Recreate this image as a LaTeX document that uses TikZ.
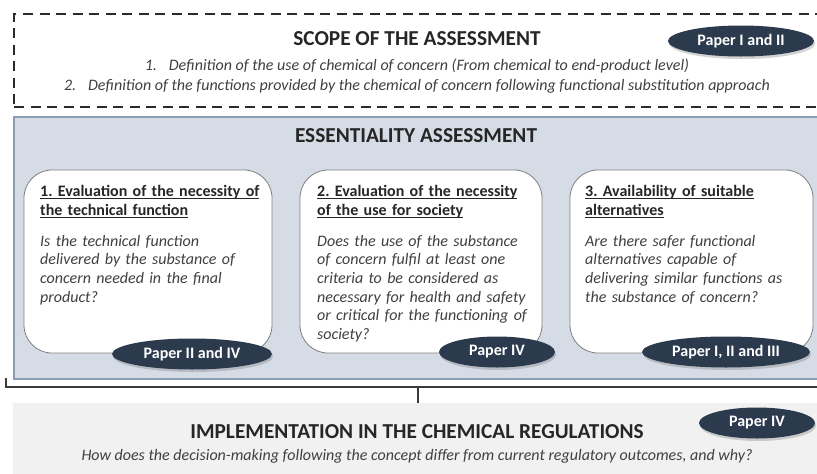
\documentclass[tikz,border=0pt]{standalone}
\usepackage{fontspec}
\setmainfont{Carlito}
\usetikzlibrary{shapes.geometric,shadows}
\frenchspacing

\definecolor{navy}{HTML}{2C3A4E}
\definecolor{essfill}{HTML}{D6DCE5}
\definecolor{essline}{HTML}{8A9CB3}
\definecolor{implfill}{HTML}{F1F1F1}
\definecolor{heading}{HTML}{262626}
\definecolor{bodytxt}{HTML}{404040}
\definecolor{cardline}{HTML}{808080}
\definecolor{dashcol}{HTML}{2A2A2A}
\definecolor{bracketcol}{HTML}{3A3A3A}

% underline with a fixed depth, so descenders do not move it
\newcommand\ulbar[1]{\leavevmode\setbox0\hbox{#1}\rlap{\rule[-2.8pt]{\wd0}{0.9pt}}\box0}
\newcommand\numitem[1]{\makebox[24pt][l]{#1}}

\tikzset{
  headtxt/.style={anchor=base, inner sep=0pt, text=heading,
    font=\bfseries\fontsize{21.3}{24}\selectfont},
  itline/.style={anchor=base, inner sep=0pt, text=bodytxt,
    font=\itshape\fontsize{16}{19}\selectfont},
  papertag/.style={ellipse, fill=navy, text=white, inner sep=0pt,
    minimum width=#1, minimum height=31pt,
    font=\bfseries\fontsize{16}{18}\selectfont,
    drop shadow={shadow xshift=1.2pt, shadow yshift=-2.5pt, opacity=.35}},
  cardbox/.style={draw=cardline, line width=0.8pt, fill=white,
    rounded corners=28pt, minimum height=183pt, inner sep=0pt},
  cardtitle/.style={anchor=base west, inner sep=0pt, text width=235pt,
    align=left, text=heading, font=\bfseries\fontsize{16}{19}\selectfont},
  cardbody/.style={anchor=base west, inner sep=0pt, text width=235pt,
    align=left, text=bodytxt, font=\itshape\fontsize{16}{18.7}\selectfont},
}

\begin{document}
\begin{tikzpicture}[x=1pt, y=-1pt]
\useasboundingbox (0,0) rectangle (817,474);
\clip (0,0) rectangle (817,474);

% --- scope of the assessment (dashed frame, open to the right)
\node[draw=dashcol, line width=2.4pt, dash pattern=on 10pt off 6.5pt,
      minimum width=821pt, minimum height=93pt, inner sep=0pt]
      (scope) at (424.5,60.5) {};
\node[headtxt] (scopetitle) at (417,45) {SCOPE OF THE ASSESSMENT};
\node[papertag=146pt] (tagscope) at (741,41) {Paper I and II};
\node[itline] (scopeA) at (417,70) {\numitem{1.}Definition of the use of chemical of concern (From chemical to end-product level)};
\node[itline] (scopeB) at (417,90) {\numitem{2.}Definition of the functions provided by the chemical of concern following functional substitution approach};

% --- essentiality assessment panel
\node[draw=essline, fill=essfill, line width=2pt, inner sep=0pt,
      minimum width=830pt, minimum height=262pt] (ess) at (429,248) {};
\node[headtxt] (esstitle) at (416,142) {ESSENTIALITY ASSESSMENT};

% card 1
\node[cardbox, minimum width=248pt] (card1) at (148,261.5) {};
\node[cardtitle] (card1t) at (40,196) {\ulbar{1. Evaluation of the necessity of}\\\ulbar{the technical function}};
\node[cardbody] (card1b) at (40,246) {Is the technical function\\delivered by the substance of\\concern needed in the final\\product?};
\node[papertag=160pt] (tag1) at (192,354) {Paper II and IV};

% card 2
\node[cardbox, minimum width=242pt] (card2) at (421,261.5) {};
\node[cardtitle] (card2t) at (317,196) {\ulbar{2. Evaluation of the necessity}\\\ulbar{of the use for society}};
\node[cardbody] (card2b) at (317,246) {Does the use of the substance\\of concern fulfil at least one\\criteria to be considered as\\necessary for health and safety\\or critical for the functioning of\\society?};
\node[papertag=116pt] (tag2) at (497,352) {Paper IV};

% card 3
\node[cardbox, minimum width=243pt] (card3) at (691.5,261.5) {};
\node[cardtitle] (card3t) at (585,196) {\ulbar{3. Availability of suitable}\\\ulbar{alternatives}};
\node[cardbody] (card3b) at (585,246) {Are there safer functional\\alternatives capable of\\delivering similar functions as\\the substance of concern?};
\node[papertag=168pt] (tag3) at (726,352) {Paper I, II and III};

% --- implementation panel
\node[fill=implfill, inner sep=0pt, minimum width=830pt, minimum height=71pt]
      (impl) at (428,438.5) {};
\node[headtxt] (impltitle) at (417,438) {IMPLEMENTATION IN THE CHEMICAL REGULATIONS};
\node[papertag=116pt] (tagimpl) at (757,423) {Paper IV};
\node[itline] (implq) at (417,460) {How does the decision-making following the concept differ from current regulatory outcomes, and why?};

% --- bracket joining the assessment to the implementation
\coordinate (brTick) at (6,378);
\coordinate (brL) at (6,387);
\coordinate (brR) at (840,387);
\coordinate (brMid) at (418,387);
\draw[bracketcol, line width=1.8pt] (brTick) -- (brL) -- (brR);
\draw[bracketcol, line width=1.8pt] (brMid) -- (brMid |- impl.north);
\end{tikzpicture}
\end{document}
